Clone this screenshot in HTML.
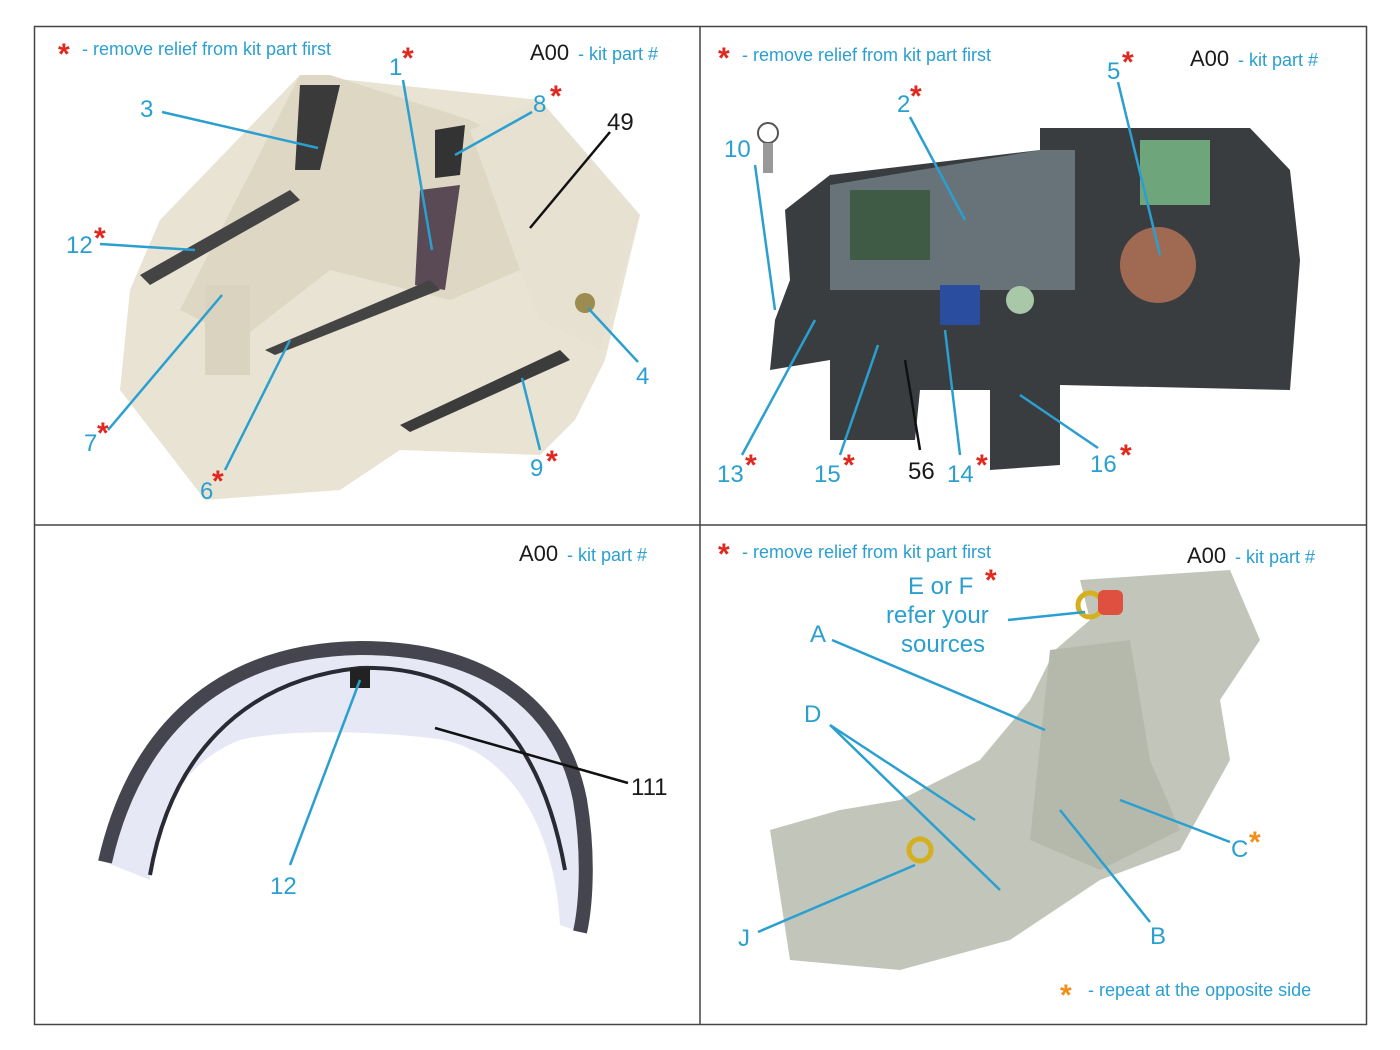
<!DOCTYPE html>
<html><head><meta charset="utf-8"><style>
html,body{margin:0;padding:0;background:#fff;}
svg{display:block;}
text{font-family:"Liberation Sans",sans-serif;}
.c{fill:#2a9fd0;font-size:24px;}
.k{fill:#1a1a1a;font-size:24px;}
.s{fill:#2a9fd0;font-size:18px;}
.r{fill:#e0281e;font-size:30px;font-weight:bold;}
.lc{stroke:#2a9fd0;stroke-width:2.5;fill:none;}
.lk{stroke:#111;stroke-width:2.5;fill:none;}
</style></head><body>
<svg width="1400" height="1050" viewBox="0 0 1400 1050" xmlns="http://www.w3.org/2000/svg">
<rect x="0" y="0" width="1400" height="1050" fill="#fff"/>
<!-- Q1 resin tub -->
<polygon points="130,290 160,220 300,75 540,100 640,215 605,360 575,420 540,455 400,450 340,490 205,500 120,390" fill="#e8e3d3"/>
<polygon points="300,75 330,75 470,120 500,135 520,270 450,300 330,270 240,340 180,310" fill="#ddd7c4"/>
<polygon points="470,130 540,100 640,215 600,350 540,320 520,270" fill="#e6e1d0"/>
<rect x="205" y="285" width="45" height="90" fill="#d9d3bf"/>
<polygon points="140,275 290,190 300,200 150,285" fill="#444"/>
<polygon points="300,85 340,85 320,170 295,170" fill="#3a3a3a"/>
<polygon points="420,190 460,185 445,290 415,285" fill="#5a4a55"/>
<polygon points="435,130 465,125 460,175 435,178" fill="#333"/>
<polygon points="265,350 430,280 440,290 275,355" fill="#444"/>
<polygon points="400,425 560,350 570,360 410,432" fill="#3c3c3c"/>
<circle cx="585" cy="303" r="10" fill="#9c8c50"/>
<!-- Q2 panel -->
<polygon points="785,210 830,175 1040,150 1040,128 1250,128 1290,170 1300,260 1290,390 1060,385 1060,465 990,470 990,390 920,390 915,440 830,440 830,360 770,370 775,320 790,280" fill="#3a3d40"/>
<polygon points="830,185 1040,150 1075,150 1075,290 830,290" fill="#8ea0a8" opacity=".55"/>
<rect x="850" y="190" width="80" height="70" fill="#3f5a45"/>
<rect x="1140" y="140" width="70" height="65" fill="#6fa57a"/>
<circle cx="1158" cy="265" r="38" fill="#a06a52"/>
<rect x="940" y="285" width="40" height="40" fill="#2a4da0"/>
<circle cx="1020" cy="300" r="14" fill="#a8c8a8"/>
<circle cx="768" cy="133" r="10" fill="#fff" stroke="#555" stroke-width="2"/>
<rect x="763" y="143" width="10" height="30" fill="#999"/>
<!-- Q3 canopy -->
<path d="M105,862 C135,730 220,650 360,648 C480,648 560,700 580,800 C590,860 585,910 580,932 L560,925 C555,830 510,745 430,738 C360,730 280,730 240,740 C190,760 160,800 150,880 Z" fill="#e6e8f5"/>
<path d="M105,862 C135,730 220,650 360,648 C480,648 560,700 580,800 C590,860 585,910 580,932" stroke="#45454f" stroke-width="14" fill="none"/>
<path d="M150,875 C170,760 240,680 360,668 C470,665 540,730 565,870" stroke="#2a2a35" stroke-width="4" fill="none"/>
<rect x="350" y="668" width="20" height="20" fill="#222"/>
<!-- Q4 seat -->
<polygon points="1080,580 1230,570 1260,640 1220,700 1230,760 1180,850 1100,880 1010,940 900,970 790,960 770,830 840,810 900,800 980,760 1030,700 1055,650 1090,620" fill="#c2c6ba"/>
<polygon points="1050,650 1130,640 1150,760 1180,830 1100,870 1030,840" fill="#b4b9ac"/>
<circle cx="1090" cy="605" r="12" fill="none" stroke="#d4b020" stroke-width="5"/>
<rect x="1098" y="590" width="25" height="25" rx="6" fill="#e05040"/>
<circle cx="920" cy="850" r="11" fill="none" stroke="#d4b020" stroke-width="5"/>
<!-- borders -->
<rect x="34.5" y="26.5" width="1332" height="998" fill="none" stroke="#444" stroke-width="1.5"/>
<line x1="700" y1="26" x2="700" y2="1025" stroke="#444" stroke-width="1.5"/>
<line x1="34" y1="525" x2="1367" y2="525" stroke="#444" stroke-width="1.5"/>
<!-- headers -->
<text class="r" x="58" y="64">*</text><text class="s" x="82" y="55">- remove relief from kit part first</text>
<text class="k" x="530" y="60" style="font-size:22px">A00</text><text class="s" x="578" y="60">- kit part #</text>
<text class="r" x="718" y="68">*</text><text class="s" x="742" y="61">- remove relief from kit part first</text>
<text class="k" x="1190" y="66" style="font-size:22px">A00</text><text class="s" x="1238" y="66">- kit part #</text>
<text class="k" x="519" y="561" style="font-size:22px">A00</text><text class="s" x="567" y="561">- kit part #</text>
<text class="r" x="718" y="564">*</text><text class="s" x="742" y="558">- remove relief from kit part first</text>
<text class="k" x="1187" y="563" style="font-size:22px">A00</text><text class="s" x="1235" y="563">- kit part #</text>
<!-- Q1 labels -->
<line class="lc" x1="162" y1="112" x2="318" y2="148"/><text class="c" x="140" y="117">3</text>
<line class="lc" x1="100" y1="244" x2="195" y2="250"/><text class="c" x="66" y="253">12</text><text class="r" x="94" y="248">*</text>
<line class="lc" x1="403" y1="80" x2="432" y2="250"/><text class="c" x="389" y="75">1</text><text class="r" x="402" y="68">*</text>
<line class="lc" x1="532" y1="112" x2="455" y2="155"/><text class="c" x="533" y="112">8</text><text class="r" x="550" y="106">*</text>
<line class="lk" x1="610" y1="132" x2="530" y2="228"/><text class="k" x="607" y="130">49</text>
<line class="lc" x1="638" y1="362" x2="588" y2="308"/><text class="c" x="636" y="384">4</text>
<line class="lc" x1="108" y1="430" x2="222" y2="295"/><text class="c" x="84" y="451">7</text><text class="r" x="97" y="443">*</text>
<line class="lc" x1="225" y1="470" x2="290" y2="340"/><text class="c" x="200" y="499">6</text><text class="r" x="212" y="491">*</text>
<line class="lc" x1="540" y1="450" x2="522" y2="378"/><text class="c" x="530" y="476">9</text><text class="r" x="546" y="471">*</text>
<!-- Q2 labels -->
<line class="lc" x1="755" y1="165" x2="775" y2="310"/><text class="c" x="724" y="157">10</text>
<line class="lc" x1="910" y1="117" x2="965" y2="220"/><text class="c" x="897" y="112">2</text><text class="r" x="910" y="106">*</text>
<line class="lc" x1="1118" y1="82" x2="1160" y2="255"/><text class="c" x="1107" y="79">5</text><text class="r" x="1122" y="72">*</text>
<line class="lc" x1="742" y1="455" x2="815" y2="320"/><text class="c" x="717" y="482">13</text><text class="r" x="745" y="475">*</text>
<line class="lc" x1="840" y1="455" x2="878" y2="345"/><text class="c" x="814" y="482">15</text><text class="r" x="843" y="475">*</text>
<line class="lk" x1="920" y1="450" x2="905" y2="360"/><text class="k" x="908" y="479">56</text>
<line class="lc" x1="960" y1="455" x2="945" y2="330"/><text class="c" x="947" y="482">14</text><text class="r" x="976" y="475">*</text>
<line class="lc" x1="1098" y1="448" x2="1020" y2="395"/><text class="c" x="1090" y="472">16</text><text class="r" x="1120" y="465">*</text>
<!-- Q3 labels -->
<line class="lc" x1="290" y1="865" x2="360" y2="680"/><text class="c" x="270" y="894">12</text>
<line class="lk" x1="628" y1="783" x2="435" y2="728"/><text class="k" x="631" y="795">111</text>
<!-- Q4 labels -->
<text class="c" x="908" y="594">E or F</text><text class="r" x="985" y="590">*</text>
<text class="c" x="886" y="623">refer your</text><text class="c" x="901" y="652">sources</text>
<line class="lc" x1="1008" y1="620" x2="1085" y2="612"/>
<line class="lc" x1="832" y1="640" x2="1045" y2="730"/><text class="c" x="810" y="642">A</text>
<line class="lc" x1="830" y1="725" x2="975" y2="820"/><line class="lc" x1="830" y1="725" x2="1000" y2="890"/><text class="c" x="804" y="722">D</text>
<line class="lc" x1="1230" y1="842" x2="1120" y2="800"/><text class="c" x="1231" y="857">C</text><text class="r" x="1249" y="852" style="fill:#f0901a">*</text>
<line class="lc" x1="1150" y1="922" x2="1060" y2="810"/><text class="c" x="1150" y="944">B</text>
<line class="lc" x1="758" y1="932" x2="915" y2="865"/><text class="c" x="738" y="946">J</text>
<text class="r" x="1060" y="1005" style="fill:#f0901a">*</text><text class="s" x="1088" y="996">- repeat at the opposite side</text>
</svg>
</body></html>
